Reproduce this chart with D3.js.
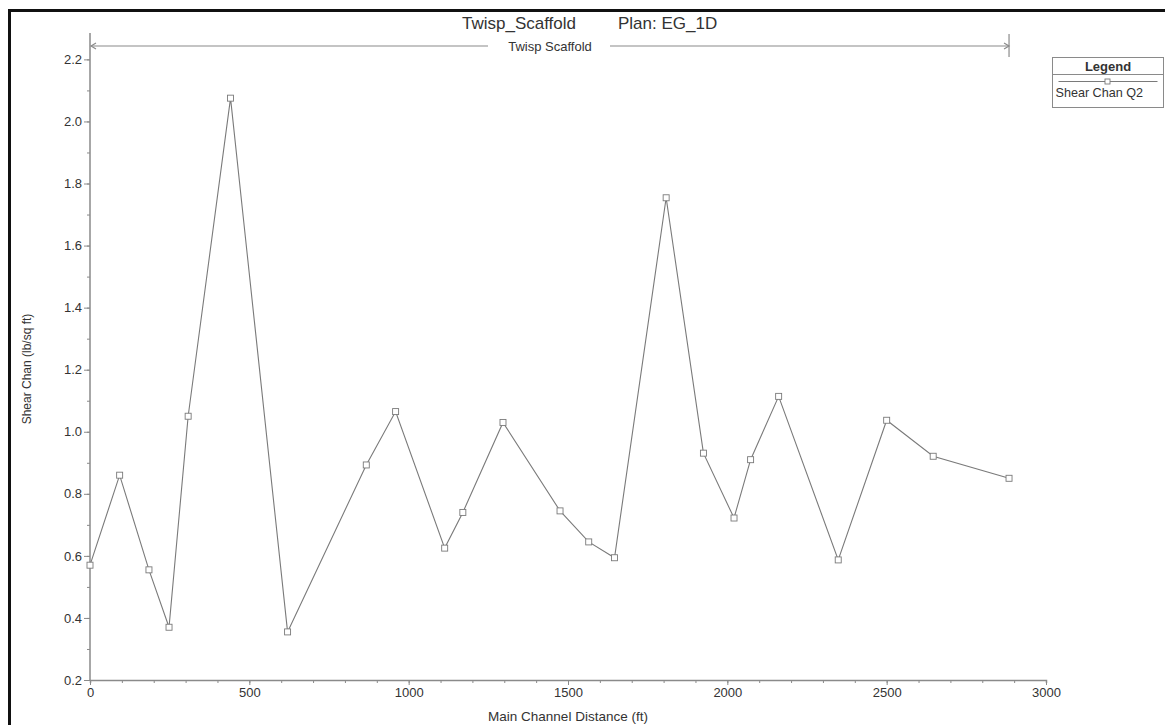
<!DOCTYPE html>
<html>
<head>
<meta charset="utf-8">
<script src="https://cdn.jsdelivr.net/npm/d3@7"></script>
<style>
  body { margin: 0; background: #fff; }
  svg text { font-family: "Liberation Sans", Arial, sans-serif; fill: #333; }
</style>
</head>
<body>
<svg id="chart" width="1165" height="725"></svg>
<script>
// main channel station (ft) and channel shear (lb/sq ft)
const stations = [0, 93, 185, 248, 308, 441, 620, 867, 959, 1113, 1170, 1296, 1475,
                  1565, 1646, 1808, 1925, 2021, 2073, 2161, 2348, 2500, 2646, 2884];
const shearQ2 = [0.57, 0.86, 0.555, 0.37, 1.05, 2.075, 0.355, 0.893, 1.065, 0.625, 0.74, 1.03, 0.745,
                 0.645, 0.594, 1.754, 0.931, 0.722, 0.91, 1.114, 0.587, 1.037, 0.921, 0.85];
const xMajor = [0, 500, 1000, 1500, 2000, 2500, 3000];
const yMajor = [0.2, 0.4, 0.6, 0.8, 1.0, 1.2, 1.4, 1.6, 1.8, 2.0, 2.2];
const xMinor = d3.range(0, 3001, 100);
const yMinor = d3.range(2, 23).map(d => d / 10);

const svg = d3.select("#chart");
const axisColor = "#8a8a8a";
const lineColor = "#7a7a7a";

const x = d3.scaleLinear().domain([0, 3000]).range([90, 1046]);
const y = d3.scaleLinear().domain([0.2, 2.285]).range([680, 33]);

// frame (only top and left edges show in the picture)
svg.append("path")
    .attr("d", "M9.5,725 V10.5 H1165")
    .attr("fill", "none")
    .attr("stroke", "#111")
    .attr("stroke-width", 3);

// title
svg.append("text").attr("x", 462).attr("y", 29)
    .attr("font-size", 17).text("Twisp_Scaffold");
svg.append("text").attr("x", 618).attr("y", 29)
    .attr("font-size", 17).text("Plan: EG_1D");

// axes
function styleAxis(g) {
    g.select(".domain").attr("stroke", axisColor).attr("stroke-width", 1.5);
    g.selectAll(".tick line").attr("stroke", axisColor);
    g.selectAll(".tick text").attr("font-size", 13).attr("fill", "#333")
        .attr("font-family", "Liberation Sans, Arial, sans-serif");
}

svg.append("g").attr("transform", "translate(0,680)")
    .call(d3.axisBottom(x).tickValues(xMinor).tickSize(3).tickFormat(""))
    .call(styleAxis);
svg.append("g").attr("transform", "translate(0,680)")
    .call(d3.axisBottom(x).tickValues(xMajor).tickSize(5).tickPadding(3).tickFormat(d3.format("d")))
    .call(styleAxis)
    .call(g => g.select(".domain").remove());

svg.append("g").attr("transform", "translate(90,0)")
    .call(d3.axisLeft(y).tickValues(yMinor).tickSize(3).tickFormat(""))
    .call(styleAxis)
    .call(g => g.select(".domain").attr("d", "M0," + y(0.2) + "V" + y(2.285)));
svg.append("g").attr("transform", "translate(90,0)")
    .call(d3.axisLeft(y).tickValues(yMajor).tickSize(6).tickPadding(2).tickFormat(d3.format(".1f")))
    .call(styleAxis)
    .call(g => g.select(".domain").remove());

// axis titles
svg.append("text")
    .attr("transform", "translate(31,369) rotate(-90)")
    .attr("text-anchor", "middle").attr("font-size", 12)
    .text("Shear Chan (lb/sq ft)");
svg.append("text")
    .attr("x", 568).attr("y", 721)
    .attr("text-anchor", "middle").attr("font-size", 13.5)
    .text("Main Channel Distance (ft)");

// reach extent marker along the top
const reachY = 46;
const reachEnd = x(d3.max(stations));
const reachLabel = "Twisp Scaffold";
const reachMid = 550;
const dim = svg.append("g").attr("stroke", axisColor).attr("fill", "none").attr("stroke-width", 1.2);
dim.append("line").attr("x1", x(0) + 1).attr("x2", reachMid - 62).attr("y1", reachY).attr("y2", reachY);
dim.append("line").attr("x1", reachMid + 60).attr("x2", reachEnd).attr("y1", reachY).attr("y2", reachY);
dim.append("path").attr("d", `M${x(0) + 6},${reachY - 3} L${x(0) + 1},${reachY} L${x(0) + 6},${reachY + 3}`);
dim.append("path").attr("d", `M${reachEnd - 5},${reachY - 3} L${reachEnd},${reachY} L${reachEnd - 5},${reachY + 3}`);
dim.append("line").attr("x1", reachEnd).attr("x2", reachEnd).attr("y1", 34).attr("y2", 57);
svg.append("text").attr("x", reachMid).attr("y", reachY + 4.5)
    .attr("text-anchor", "middle").attr("font-size", 13).text(reachLabel);

// series
const pts = stations.map((s, i) => [s, shearQ2[i]]);
svg.append("path")
    .datum(pts)
    .attr("fill", "none")
    .attr("stroke", lineColor)
    .attr("stroke-width", 1.1)
    .attr("d", d3.line().x(d => x(d[0])).y(d => y(d[1])));

svg.selectAll(".pt")
    .data(pts)
    .join("rect")
    .attr("class", "pt")
    .attr("x", d => x(d[0]) - 3)
    .attr("y", d => y(d[1]) - 3)
    .attr("width", 6).attr("height", 6)
    .attr("fill", "#fff")
    .attr("stroke", lineColor)
    .attr("stroke-width", 0.9);

// legend
const lg = svg.append("g").attr("transform", "translate(1052.5,57.5)");
lg.append("rect").attr("width", 111).attr("height", 50)
    .attr("fill", "#fff").attr("stroke", axisColor);
lg.append("line").attr("x1", 0).attr("x2", 111).attr("y1", 17).attr("y2", 17).attr("stroke", axisColor);
lg.append("text").attr("x", 55.5).attr("y", 13).attr("text-anchor", "middle")
    .attr("font-size", 13).attr("font-weight", "bold").attr("fill", "#222").text("Legend");
lg.append("line").attr("x1", 6).attr("x2", 105).attr("y1", 24).attr("y2", 24)
    .attr("stroke", lineColor);
lg.append("rect").attr("x", 52.5).attr("y", 21.5).attr("width", 5).attr("height", 5)
    .attr("fill", "#fff").attr("stroke", lineColor).attr("stroke-width", 0.9);
lg.append("text").attr("x", 3).attr("y", 39.5).attr("font-size", 12.6).text("Shear Chan Q2");
</script>
</body>
</html>
